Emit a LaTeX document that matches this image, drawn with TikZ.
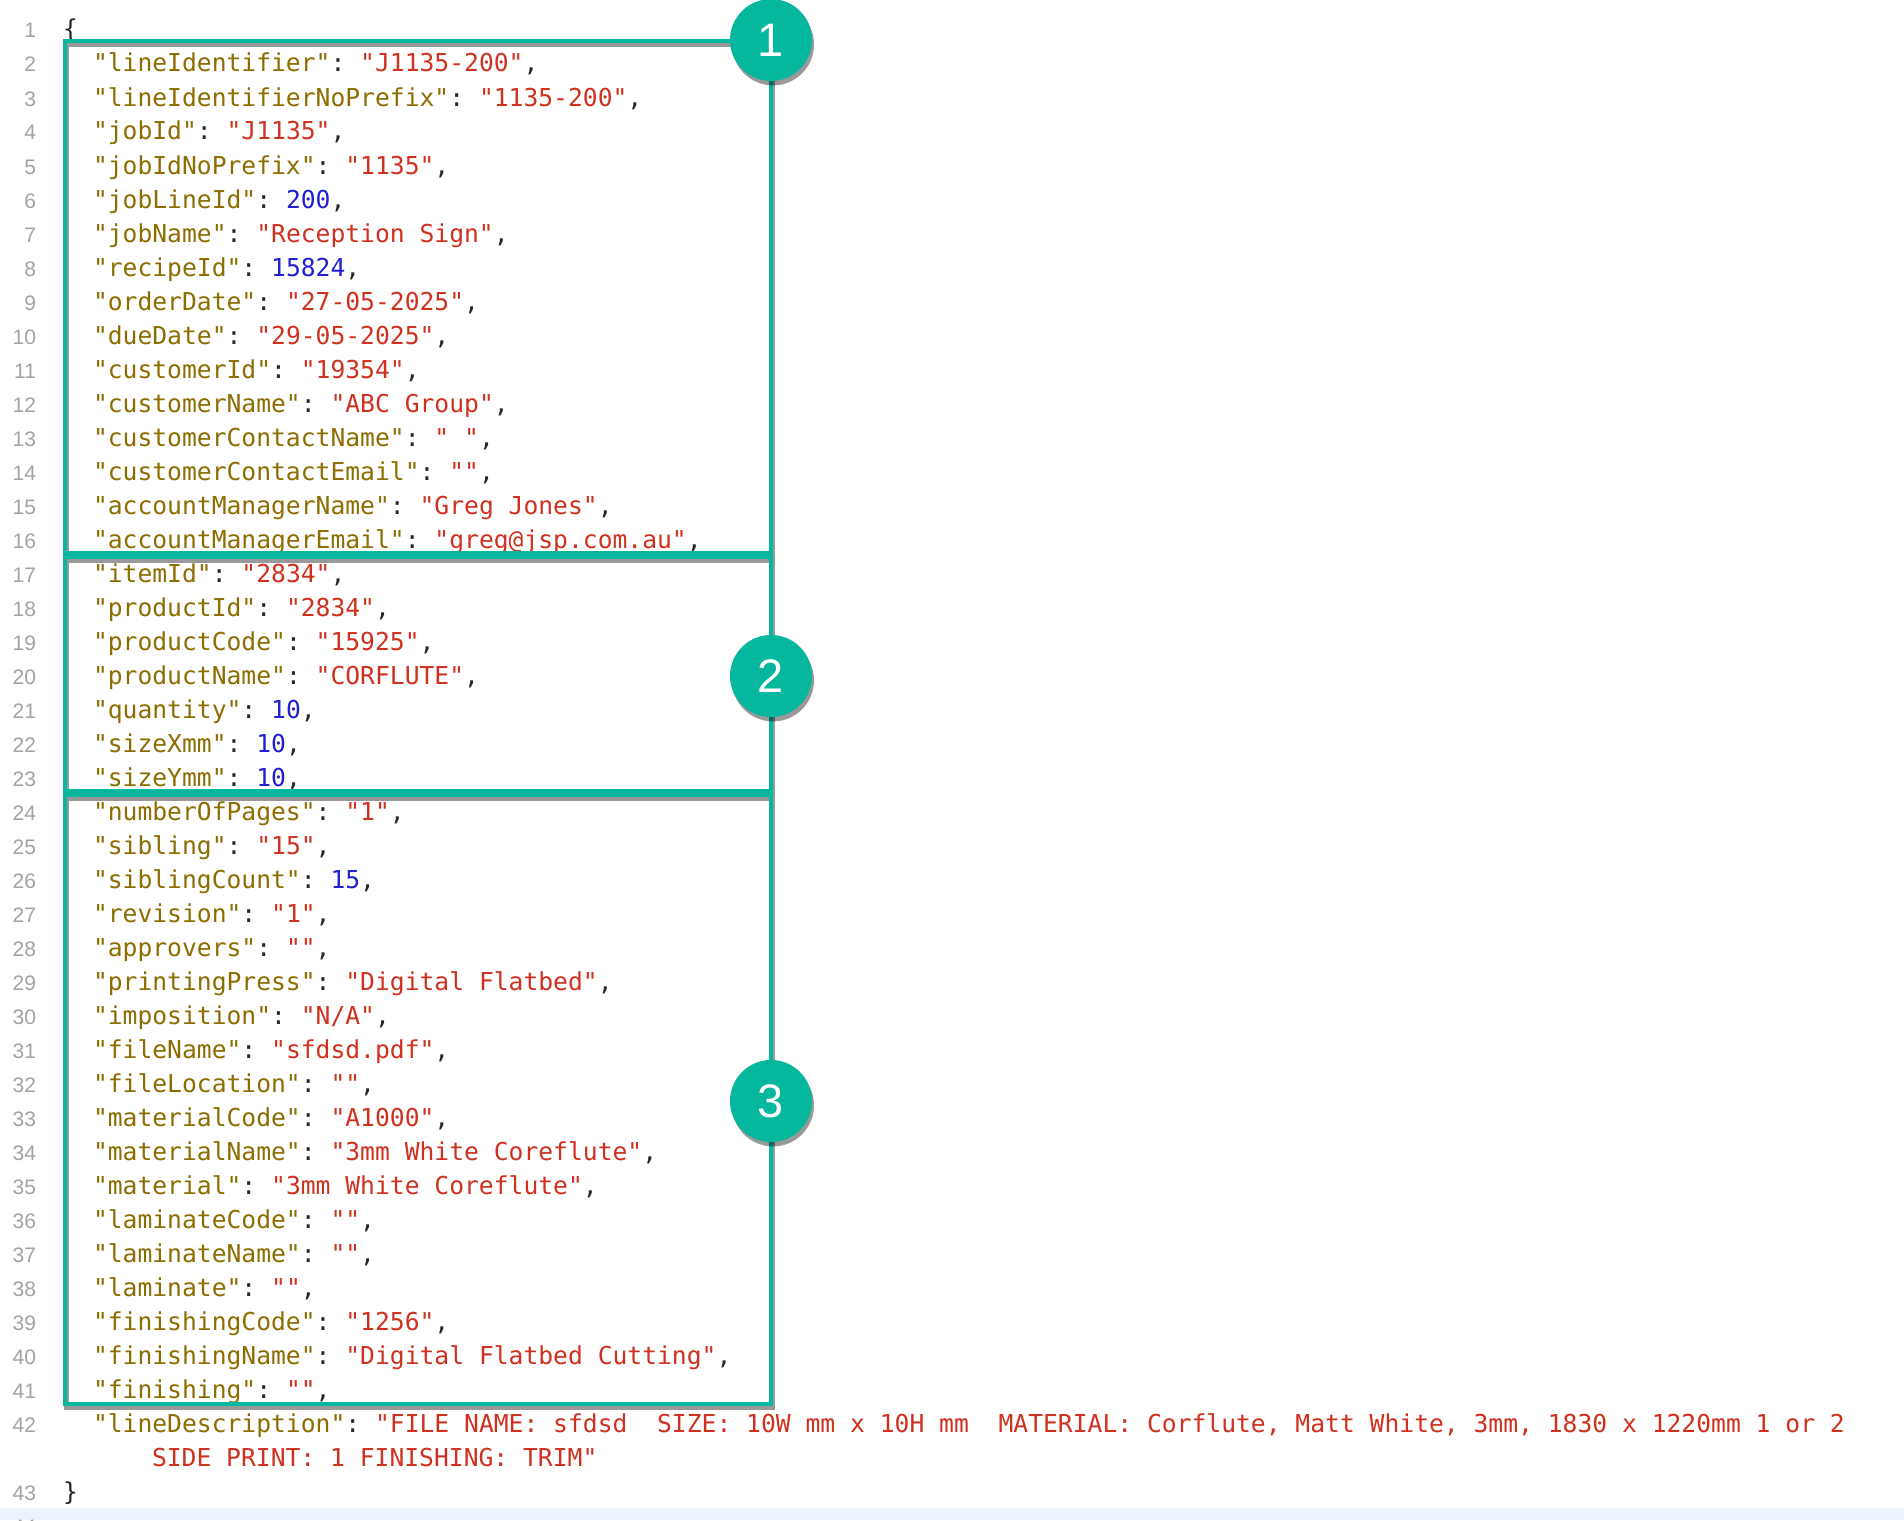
\documentclass[tikz,border=0pt]{standalone}
\usepackage{fontspec}
\usetikzlibrary{shadows}
\newfontfamily\codefont{DejaVu Sans Mono}
\newfontfamily\numfont{Liberation Sans}
\definecolor{keycol}{HTML}{8D6D00}
\definecolor{strcol}{HTML}{D0311E}
\definecolor{numcol}{HTML}{2020D0}
\definecolor{punct}{HTML}{262626}
\definecolor{lncol}{HTML}{A3A3A3}
\definecolor{teal}{HTML}{04B79D}
\definecolor{band}{HTML}{EDF3FC}
\newcommand\jkey[1]{\textcolor{keycol}{"#1"}}
\newcommand\jstr[1]{\textcolor{strcol}{"#1"}}
\newcommand\jnum[1]{\textcolor{numcol}{#1}}
\tikzset{
  code/.style={anchor=base west, inner sep=0pt, outer sep=0pt, text=punct,
    font=\codefont\fontsize{12.33}{14}\selectfont\frenchspacing},
  lnum/.style={anchor=base east, inner sep=0pt, outer sep=0pt, text=lncol,
    font=\numfont\fontsize{10.5}{12}\selectfont},
  boxline/.style={draw=teal, line width=2.25pt},
  boxshadow/.style={draw=black, line width=2.4pt, opacity=0.4},
  badge/.style={circle, fill=teal, minimum size=41pt, inner sep=0pt,
    text=white, font=\numfont\fontsize{23.5}{24}\selectfont,
    drop shadow={shadow xshift=1pt, shadow yshift=-2.2pt, opacity=0.4, fill=black}}
}
\begin{document}
\begin{tikzpicture}[x=0.5pt, y=-0.5pt]
\useasboundingbox (0,0) rectangle (1904,1520);
\fill[white] (0,0) rectangle (1904,1520);
\fill[band] (0,1508) rectangle (1904,1520);
% line numbers
\foreach \i in {1,...,42} \node[lnum] (n\i) at (36,{38+(\i-1)*34}) {\i};
\node[lnum] (n43) at (36,1500) {43};
\node[lnum] (n44) at (36,1534) {44};
% code lines
\node[code] (t1) at (63,38) {\{};
\node[code] (t2) at (93,72) {\jkey{lineIdentifier}: \jstr{J1135-200},};
\node[code] (t3) at (93,106) {\jkey{lineIdentifierNoPrefix}: \jstr{1135-200},};
\node[code] (t4) at (93,140) {\jkey{jobId}: \jstr{J1135},};
\node[code] (t5) at (93,174) {\jkey{jobIdNoPrefix}: \jstr{1135},};
\node[code] (t6) at (93,208) {\jkey{jobLineId}: \jnum{200},};
\node[code] (t7) at (93,242) {\jkey{jobName}: \jstr{Reception Sign},};
\node[code] (t8) at (93,276) {\jkey{recipeId}: \jnum{15824},};
\node[code] (t9) at (93,310) {\jkey{orderDate}: \jstr{27-05-2025},};
\node[code] (t10) at (93,344) {\jkey{dueDate}: \jstr{29-05-2025},};
\node[code] (t11) at (93,378) {\jkey{customerId}: \jstr{19354},};
\node[code] (t12) at (93,412) {\jkey{customerName}: \jstr{ABC Group},};
\node[code] (t13) at (93,446) {\jkey{customerContactName}: \jstr{\ },};
\node[code] (t14) at (93,480) {\jkey{customerContactEmail}: \jstr{},};
\node[code] (t15) at (93,514) {\jkey{accountManagerName}: \jstr{Greg Jones},};
\node[code] (t16) at (93,548) {\jkey{accountManagerEmail}: \jstr{greg@jsp.com.au},};
\node[code] (t17) at (93,582) {\jkey{itemId}: \jstr{2834},};
\node[code] (t18) at (93,616) {\jkey{productId}: \jstr{2834},};
\node[code] (t19) at (93,650) {\jkey{productCode}: \jstr{15925},};
\node[code] (t20) at (93,684) {\jkey{productName}: \jstr{CORFLUTE},};
\node[code] (t21) at (93,718) {\jkey{quantity}: \jnum{10},};
\node[code] (t22) at (93,752) {\jkey{sizeXmm}: \jnum{10},};
\node[code] (t23) at (93,786) {\jkey{sizeYmm}: \jnum{10},};
\node[code] (t24) at (93,820) {\jkey{numberOfPages}: \jstr{1},};
\node[code] (t25) at (93,854) {\jkey{sibling}: \jstr{15},};
\node[code] (t26) at (93,888) {\jkey{siblingCount}: \jnum{15},};
\node[code] (t27) at (93,922) {\jkey{revision}: \jstr{1},};
\node[code] (t28) at (93,956) {\jkey{approvers}: \jstr{},};
\node[code] (t29) at (93,990) {\jkey{printingPress}: \jstr{Digital Flatbed},};
\node[code] (t30) at (93,1024) {\jkey{imposition}: \jstr{N/A},};
\node[code] (t31) at (93,1058) {\jkey{fileName}: \jstr{sfdsd.pdf},};
\node[code] (t32) at (93,1092) {\jkey{fileLocation}: \jstr{},};
\node[code] (t33) at (93,1126) {\jkey{materialCode}: \jstr{A1000},};
\node[code] (t34) at (93,1160) {\jkey{materialName}: \jstr{3mm White Coreflute},};
\node[code] (t35) at (93,1194) {\jkey{material}: \jstr{3mm White Coreflute},};
\node[code] (t36) at (93,1228) {\jkey{laminateCode}: \jstr{},};
\node[code] (t37) at (93,1262) {\jkey{laminateName}: \jstr{},};
\node[code] (t38) at (93,1296) {\jkey{laminate}: \jstr{},};
\node[code] (t39) at (93,1330) {\jkey{finishingCode}: \jstr{1256},};
\node[code] (t40) at (93,1364) {\jkey{finishingName}: \jstr{Digital Flatbed Cutting},};
\node[code] (t41) at (93,1398) {\jkey{finishing}: \jstr{},};
\node[code] (t42) at (93,1432) {\jkey{lineDescription}: \textcolor{strcol}{"FILE NAME: sfdsd\ \ SIZE: 10W mm x 10H mm\ \ MATERIAL: Corflute, Matt White, 3mm, 1830 x 1220mm 1 or 2}};
\node[code] (t42b) at (152,1466) {\textcolor{strcol}{SIDE PRINT: 1 FINISHING: TRIM"}};
\node[code] (t43) at (63,1500) {\}};
% box shadows
\begin{scope}[shift={(1.5,4)}]
  \draw[boxshadow] (65,41) rectangle (771,553);
  \draw[boxshadow] (65,557) rectangle (771,791);
  \draw[boxshadow] (65,795) rectangle (771,1404);
\end{scope}
% boxes
\draw[boxline] (65,41) rectangle (771,553);
\draw[boxline] (65,557) rectangle (771,791);
\draw[boxline] (65,795) rectangle (771,1404);
% badges
\node[badge] (c1) at (771,40) {1};
\node[badge] (c2) at (771,676) {2};
\node[badge] (c3) at (771,1101) {3};
\end{tikzpicture}
\end{document}
